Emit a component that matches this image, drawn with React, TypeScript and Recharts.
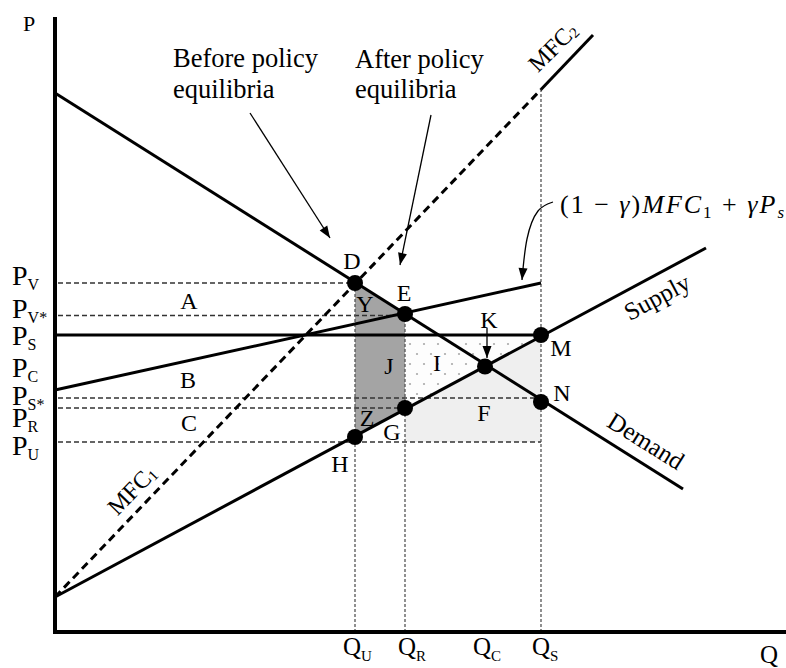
import React from "react";
import {
  ComposedChart,
  XAxis,
  YAxis,
  Line,
  Area,
  ReferenceLine,
  ReferenceDot,
  ReferenceArea,
} from "recharts";

const WIDTH = 786;
const HEIGHT = 668;
const FONT = "'Liberation Serif', 'Times New Roman', serif";

// curves as (Q, P)
const demandLine = [{ q: 0, p: 107.8 }, { q: 125.6, p: 28.6 }];
const supplyLine = [{ q: 0, p: 7 }, { q: 130.2, p: 76.8 }];
const mfc1Line = [{ q: 0, p: 7 }, { q: 97.2, p: 108.5 }];
const mfc2Line = [{ q: 97.2, p: 108.5 }, { q: 107.6, p: 119.4 }];
const blendLine = [{ q: 0, p: 48.4 }, { q: 97.2, p: 69.8 }];
const floorLine = [{ q: 0, p: 59.4 }, { q: 97.2, p: 59.4 }];

// tick labels on the price axis and on the quantity axis
const priceTicks = [
  { sub: "V", p: 69.8 },
  { sub: "V*", p: 63.3 },
  { sub: "S", p: 59.4 },
  { sub: "C", p: 53.2 },
  { sub: "S*", p: 46.8 },
  { sub: "R", p: 44.8 },
  { sub: "U", p: 38 },
];
const quantityTicks = [
  { sub: "U", q: 60 },
  { sub: "R", q: 70 },
  { sub: "C", q: 86 },
  { sub: "S", q: 97.2 },
];

// dashed guides: horizontal (price, out to Q) and vertical (quantity, up to P)
const priceGuides = [
  { p: 69.8, to: 60 },
  { p: 63.3, to: 70 },
  { p: 46.8, to: 97.2 },
  { p: 44.8, to: 70 },
  { p: 38, to: 97.2 },
];
const quantityGuides = [
  { q: 60, top: 69.8 },
  { q: 70, top: 63.6 },
  { q: 97.2, top: 108.5 },
];

// marked equilibria
const equilibria = [
  { id: "D", q: 60, p: 69.8 },
  { id: "E", q: 70, p: 63.6 },
  { id: "K", q: 86, p: 53.1 },
  { id: "M", q: 97.2, p: 59.4 },
  { id: "N", q: 97.2, p: 46 },
  { id: "G", q: 70, p: 44.8 },
  { id: "H", q: 60, p: 39 },
];

// shaded areas
const darkBand = [
  { q: 60, band: [39, 69.8] },
  { q: 70, band: [44.8, 63.6] },
];
const dottedBand = [
  { q: 70, band: [44.8, 59.2] },
  { q: 97.2, band: [59.2, 59.2] },
];
const lightBox = { q1: 70, q2: 97.2, p1: 38, p2: 59.4 };

// annotation arrows
const beforeArrow = [{ q: 39, p: 103.8 }, { q: 55, p: 78.8 }];
const afterArrow = [{ q: 75.2, p: 103.4 }, { q: 69, p: 73.4 }];
const kArrow = [{ q: 86.4, p: 60.8 }, { q: 86.4, p: 54.8 }];
const formulaArrow = [
  { q: 99.6, p: 86 },
  { q: 96.6, p: 84.2 },
  { q: 94.4, p: 78.6 },
  { q: 93.4, p: 70.4 },
];

// region / point letters
const letters = [
  { t: "D", q: 59.4, p: 74.2 },
  { t: "E", q: 69.8, p: 67.8 },
  { t: "Y", q: 62, p: 65.6 },
  { t: "J", q: 66.8, p: 53.2 },
  { t: "I", q: 76.4, p: 53.8 },
  { t: "K", q: 86.8, p: 62.4 },
  { t: "M", q: 101.2, p: 56.8 },
  { t: "N", q: 101.4, p: 47.8 },
  { t: "F", q: 85.8, p: 43.8 },
  { t: "Z", q: 62.4, p: 42.8 },
  { t: "G", q: 67.4, p: 40 },
  { t: "H", q: 57, p: 33.6 },
  { t: "A", q: 26.8, p: 66.2 },
  { t: "B", q: 26.6, p: 50.4 },
  { t: "C", q: 26.8, p: 41.8 },
];

// layout nudges (px) for the crowded axis labels
const priceTickNudge = [2, 2.5, 10, 11, 7, 19, 13];
const quantityTickNudge = [-12, -7, -12, -9];

const note = (key: string, q: number, p: number, draw: (x: number, y: number) => React.ReactElement) => (
  <ReferenceDot
    key={key}
    x={q}
    y={p}
    r={0}
    ifOverflow="visible"
    shape={(pr: any) => draw(pr.cx, pr.cy)}
  />
);

const arrowHead = (key: string, q: number, p: number, angle: number) =>
  note(key, q, p, (x, y) => (
    <polygon
      points="0,0 -12,-4.5 -12,4.5"
      fill="#000"
      transform={`translate(${x} ${y}) rotate(${angle})`}
    />
  ));

const seg = (key: string, a: { q: number; p: number }, b: { q: number; p: number }, style: any) => (
  <ReferenceLine
    key={key}
    segment={[{ x: a.q, y: a.p }, { x: b.q, y: b.p }]}
    ifOverflow="visible"
    {...style}
  />
);

const curve = (key: string, data: { q: number; p: number }[], style: any) => (
  <Line
    key={key}
    data={data}
    dataKey="p"
    type="linear"
    dot={false}
    activeDot={false}
    isAnimationActive={false}
    {...style}
  />
);

export default function App() {
  const thick = { stroke: "#000", strokeWidth: 3 };
  const guide = { stroke: "#333", strokeWidth: 1.4, strokeDasharray: "5 3" };
  const vguide = { stroke: "#555", strokeWidth: 1.3, strokeDasharray: "3 2" };
  const big = 26.5;

  return (
    <div style={{ position: "absolute", left: 0, top: 0, width: WIDTH, height: HEIGHT, background: "#fff" }}>
      <ComposedChart width={WIDTH} height={HEIGHT} margin={{ top: 0, right: 0, bottom: 0, left: 0 }}>
        <defs>
          <pattern id="dots" width={14} height={20} patternUnits="userSpaceOnUse">
            <rect width={14} height={20} fill="#fdfdfd" />
            <circle cx={4} cy={4} r={1.1} fill="#aaa" />
            <circle cx={11} cy={14} r={1.1} fill="#aaa" />
          </pattern>
        </defs>
        <XAxis type="number" dataKey="q" domain={[-11, 146.2]} allowDataOverflow hide />
        <YAxis type="number" domain={[-7.2, 126.4]} allowDataOverflow hide />

        <ReferenceArea
          x1={lightBox.q1}
          x2={lightBox.q2}
          y1={lightBox.p1}
          y2={lightBox.p2}
          fill="#efefef"
          fillOpacity={1}
          stroke="none"
        />
        <Area data={dottedBand} dataKey="band" type="linear" fill="url(#dots)" fillOpacity={1} stroke="none" isAnimationActive={false} />
        <Area data={darkBand} dataKey="band" type="linear" fill="#a4a4a4" fillOpacity={1} stroke="none" isAnimationActive={false} />

        {priceGuides.map((g, i) => seg(`pg${i}`, { q: 0.6, p: g.p }, { q: g.to, p: g.p }, guide))}
        {quantityGuides.map((g, i) => seg(`qg${i}`, { q: g.q, p: 0 }, { q: g.q, p: g.top }, vguide))}

        {curve("demand", demandLine, thick)}
        {curve("supply", supplyLine, thick)}
        {curve("mfc1", mfc1Line, { ...thick, strokeDasharray: "8 5" })}
        {curve("mfc2", mfc2Line, thick)}
        {curve("blend", blendLine, thick)}
        {curve("floor", floorLine, thick)}

        {seg("yaxis", { q: 0, p: 123 }, { q: 0, p: -0.4 }, { stroke: "#000", strokeWidth: 4 })}
        {seg("xaxis", { q: -0.4, p: 0 }, { q: 146.2, p: 0 }, { stroke: "#000", strokeWidth: 4 })}

        {seg("before", beforeArrow[0], beforeArrow[1], { stroke: "#000", strokeWidth: 1.3 })}
        {seg("after", afterArrow[0], afterArrow[1], { stroke: "#000", strokeWidth: 1.3 })}
        {seg("karrow", kArrow[0], kArrow[1], { stroke: "#000", strokeWidth: 1.3 })}
        {curve("formulaArrow", formulaArrow, { type: "natural", stroke: "#000", strokeWidth: 1.3 })}
        {arrowHead("ahBefore", beforeArrow[1].q, beforeArrow[1].p, 57)}
        {arrowHead("ahAfter", afterArrow[1].q, afterArrow[1].p, 102)}
        {arrowHead("ahK", kArrow[1].q, kArrow[1].p, 90)}
        {arrowHead("ahFormula", formulaArrow[3].q, formulaArrow[3].p, 95)}

        {equilibria.map((e) => (
          <ReferenceDot key={e.id} x={e.q} y={e.p} r={8} fill="#000" stroke="none" />
        ))}

        {letters.map((l) =>
          note(`l${l.t}`, l.q, l.p, (x, y) => (
            <text x={x} y={y} textAnchor="middle" dominantBaseline="central" fontFamily={FONT} fontSize={24} fill="#000">
              {l.t}
            </text>
          ))
        )}

        {priceTicks.map((t, i) =>
          note(`pt${i}`, -8.6, t.p, (x, y) => (
            <text x={x} y={y + priceTickNudge[i]} fontFamily={FONT} fontSize={28} fill="#000">
              P<tspan fontSize={16} dy={5}>{t.sub}</tspan>
            </text>
          ))
        )}
        {quantityTicks.map((t, i) =>
          note(`qt${i}`, t.q, -4.6, (x, y) => (
            <text x={x + quantityTickNudge[i]} y={y} fontFamily={FONT} fontSize={25} fill="#000">
              Q<tspan fontSize={15} dy={6}>{t.sub}</tspan>
            </text>
          ))
        )}
        {note("axisP", -6.4, 120.2, (x, y) => (
          <text x={x} y={y} fontFamily={FONT} fontSize={22} fill="#000">P</text>
        ))}
        {note("axisQ", 141, -6.2, (x, y) => (
          <text x={x} y={y} fontFamily={FONT} fontSize={25} fill="#000">Q</text>
        ))}

        {note("before1", 23.6, 113, (x, y) => (
          <text x={x} y={y} fontFamily={FONT} fontSize={big} fill="#000">Before policy</text>
        ))}
        {note("before2", 23.6, 106.8, (x, y) => (
          <text x={x} y={y} fontFamily={FONT} fontSize={big} fill="#000">equilibria</text>
        ))}
        {note("after1", 60, 112.8, (x, y) => (
          <text x={x} y={y} fontFamily={FONT} fontSize={big} fill="#000">After policy</text>
        ))}
        {note("after2", 60, 106.8, (x, y) => (
          <text x={x} y={y} fontFamily={FONT} fontSize={big} fill="#000">equilibria</text>
        ))}

        {note("formula", 101, 83.8, (x, y) => (
          <text x={x} y={y} fontFamily={FONT} fontSize={26} fill="#000" textLength={224} lengthAdjust="spacing">
            (1 − <tspan fontStyle="italic">γ</tspan>)<tspan fontStyle="italic">MFC</tspan>
            <tspan fontSize={17} dy={5}>1</tspan>
            <tspan dy={-5}> + </tspan>
            <tspan fontStyle="italic">γP</tspan>
            <tspan fontSize={17} dy={5} fontStyle="italic">s</tspan>
          </text>
        ))}

        {note("mfc2Label", 99.6, 117, (x, y) => (
          <text x={x} y={y} textAnchor="middle" dominantBaseline="central" fontFamily={FONT} fontSize={24} fill="#000" transform={`rotate(-45 ${x} ${y})`}>
            MFC<tspan fontSize={15} dy={5}>2</tspan>
          </text>
        ))}
        {note("mfc1Label", 15.4, 28.4, (x, y) => (
          <text x={x} y={y} textAnchor="middle" dominantBaseline="central" fontFamily={FONT} fontSize={24} fill="#000" transform={`rotate(-46 ${x} ${y})`}>
            MFC<tspan fontSize={15} dy={5}>1</tspan>
          </text>
        ))}
        {note("supplyLabel", 120.4, 67, (x, y) => (
          <text x={x} y={y} textAnchor="middle" dominantBaseline="central" fontFamily={FONT} fontSize={25} fill="#000" transform={`rotate(-28 ${x} ${y})`}>
            Supply
          </text>
        ))}
        {note("demandLabel", 118.2, 38.2, (x, y) => (
          <text x={x} y={y} textAnchor="middle" dominantBaseline="central" fontFamily={FONT} fontSize={25} fill="#000" transform={`rotate(32 ${x} ${y})`}>
            Demand
          </text>
        ))}
      </ComposedChart>
    </div>
  );
}
